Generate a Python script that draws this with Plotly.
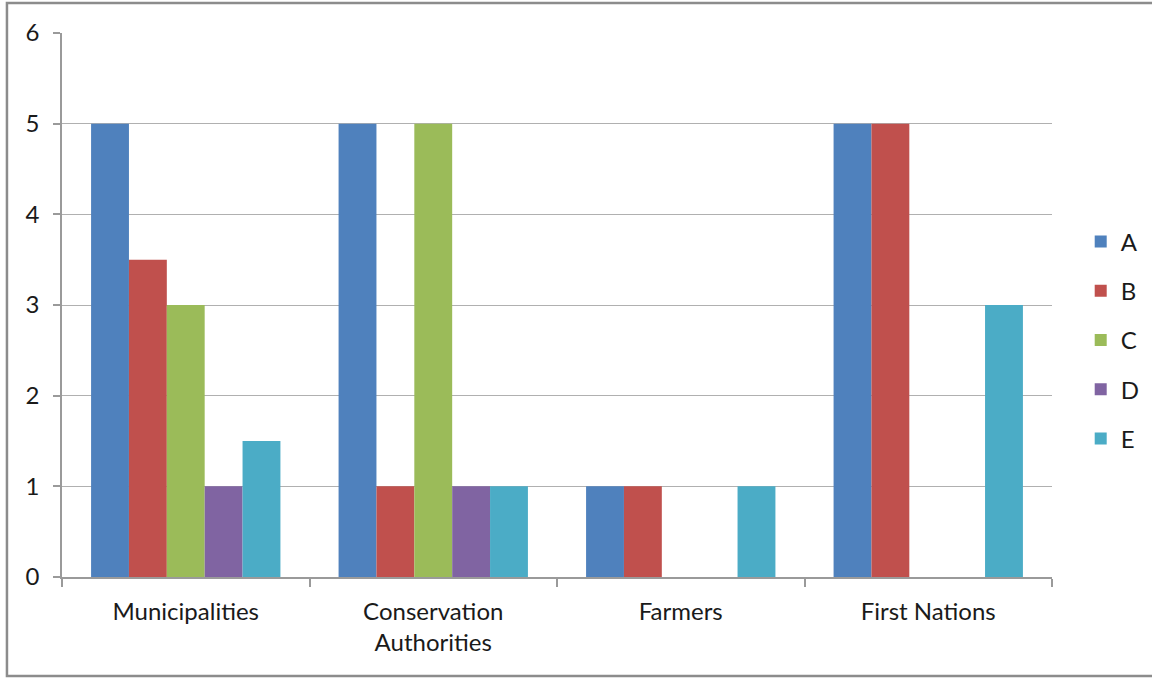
import plotly.graph_objects as go

categories = ["Municipalities", "Conservation<br>Authorities", "Farmers", "First Nations"]
series_names = ["A", "B", "C", "D", "E"]
values_a = [5, 5, 1, 5]
values_b = [3.5, 1, 1, 5]
values_c = [3, 5, 0, 0]
values_d = [1, 1, 0, 0]
values_e = [1.5, 1, 1, 3]
colors = ["#4F81BD", "#C0504D", "#9BBB59", "#8064A2", "#4BACC6"]

all_values = [values_a, values_b, values_c, values_d, values_e]

FONT = "Lato, Calibri, Carlito, sans-serif"
GRID = "#b0b0b0"
AXIS = "#9a9a9a"
TEXT = "#1a1a1a"

fig = go.Figure()
for name, vals, col in zip(series_names, all_values, colors):
    fig.add_trace(go.Bar(
        x=categories, y=vals, name=name, legendgroup=name,
        marker=dict(color=col, line=dict(width=0)),
    ))

fig.update_layout(
    width=1152, height=682,
    margin=dict(l=62, r=100, t=33, b=105, autoexpand=False),
    paper_bgcolor="white", plot_bgcolor="white",
    barmode="group", bargap=0.235, bargroupgap=0,
    font=dict(family=FONT, size=24, color=TEXT),
    legend=dict(
        x=1.029, y=0.4357, xanchor="left", yanchor="middle",
        traceorder="grouped", tracegroupgap=15,
        font=dict(family=FONT, size=24, color=TEXT),
        itemwidth=30,
    ),
    showlegend=True,
)

fig.update_xaxes(
    type="category", tickson="boundaries", ticks="outside", ticklen=8,
    tickcolor=AXIS, tickwidth=1.5, showline=True, linecolor=AXIS, linewidth=1.5,
    showgrid=False, tickfont=dict(size=24), ticklabelstandoff=12,
)
fig.update_yaxes(
    range=[0, 6], dtick=1, tick0=0, ticks="outside", ticklen=7,
    tickcolor=AXIS, tickwidth=1.5, showline=True, linecolor=AXIS, linewidth=1.5,
    showgrid=True, gridcolor=GRID, gridwidth=1.2, zeroline=False,
    tickfont=dict(size=24), ticklabelstandoff=9,
)

# chart-area frame
fig.add_shape(
    type="rect", xref="paper", yref="paper",
    x0=-0.0556, x1=1.11, y0=-0.182, y1=1.0551,
    line=dict(color="#8c8c8c", width=2.5), fillcolor="rgba(0,0,0,0)", layer="above",
)

fig.write_html("out.html")
